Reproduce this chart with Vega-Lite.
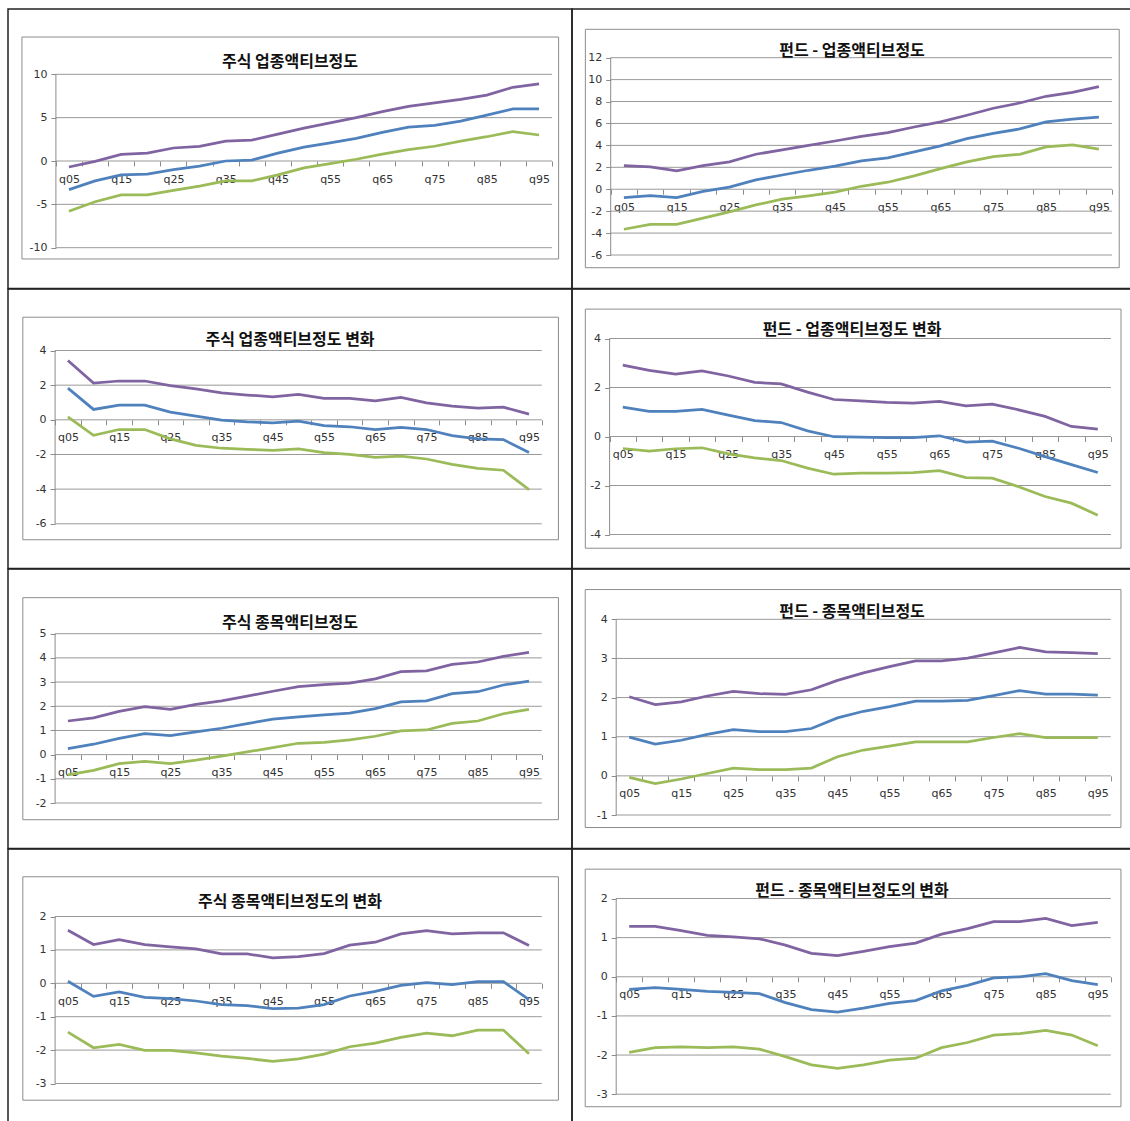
{
  "$schema": "https://vega.github.io/schema/vega-lite/v6.json",
  "background": "white",
  "padding": {"left": 7, "top": 8, "right": 0, "bottom": 0},
  "bounds": "flush",
  "spacing": 0,
  "columns": 2,
  "config": {
    "view": {"stroke": "#222222", "strokeWidth": 1.5},
    "axis": {"domain": false, "grid": false, "tickSize": 5, "tickColor": "#8c8c8c", "labelFont": "DejaVu Sans", "labelFontSize": 11, "labelColor": "#333333", "minExtent": 0},
    "axisX": {"labelPadding": 7},
    "axisY": {"labelPadding": 4},
    "title": {"font": "Noto Sans CJK KR", "fontSize": 16, "fontWeight": "bold", "color": "#111111", "anchor": "middle", "baseline": "middle"},
    "line": {"strokeWidth": 2.75},
    "rule": {"color": "#999999", "strokeWidth": 1}
  },
  "datasets": {
    "p1": [
      {"pct": 5, "upper": -0.69, "coef": -3.3, "lower": -5.8},
      {"pct": 10, "upper": -0.05, "coef": -2.3, "lower": -4.7},
      {"pct": 15, "upper": 0.77, "coef": -1.6, "lower": -3.9},
      {"pct": 20, "upper": 0.9, "coef": -1.5, "lower": -3.9},
      {"pct": 25, "upper": 1.5, "coef": -1.0, "lower": -3.4},
      {"pct": 30, "upper": 1.7, "coef": -0.6, "lower": -2.9},
      {"pct": 35, "upper": 2.3, "coef": 0.0, "lower": -2.3},
      {"pct": 40, "upper": 2.4, "coef": 0.1, "lower": -2.3},
      {"pct": 45, "upper": 3.1, "coef": 0.9, "lower": -1.6},
      {"pct": 50, "upper": 3.8, "coef": 1.6, "lower": -0.8},
      {"pct": 55, "upper": 4.4, "coef": 2.1, "lower": -0.3},
      {"pct": 60, "upper": 5.0, "coef": 2.6, "lower": 0.2},
      {"pct": 65, "upper": 5.7, "coef": 3.3, "lower": 0.8},
      {"pct": 70, "upper": 6.3, "coef": 3.9, "lower": 1.3},
      {"pct": 75, "upper": 6.7, "coef": 4.1, "lower": 1.7},
      {"pct": 80, "upper": 7.1, "coef": 4.6, "lower": 2.3},
      {"pct": 85, "upper": 7.6, "coef": 5.3, "lower": 2.8},
      {"pct": 90, "upper": 8.5, "coef": 6.0, "lower": 3.4},
      {"pct": 95, "upper": 8.9, "coef": 6.0, "lower": 3.0}
    ],
    "p2": [
      {"pct": 5, "upper": 2.16, "coef": -0.76, "lower": -3.65},
      {"pct": 10, "upper": 2.04, "coef": -0.58, "lower": -3.2},
      {"pct": 15, "upper": 1.67, "coef": -0.76, "lower": -3.2},
      {"pct": 20, "upper": 2.16, "coef": -0.2, "lower": -2.64},
      {"pct": 25, "upper": 2.5, "coef": 0.2, "lower": -2.07},
      {"pct": 30, "upper": 3.19, "coef": 0.85, "lower": -1.43},
      {"pct": 35, "upper": 3.59, "coef": 1.3, "lower": -0.91},
      {"pct": 40, "upper": 4.0, "coef": 1.73, "lower": -0.6},
      {"pct": 45, "upper": 4.4, "coef": 2.1, "lower": -0.27},
      {"pct": 50, "upper": 4.83, "coef": 2.58, "lower": 0.27},
      {"pct": 55, "upper": 5.17, "coef": 2.86, "lower": 0.64},
      {"pct": 60, "upper": 5.68, "coef": 3.4, "lower": 1.22},
      {"pct": 65, "upper": 6.14, "coef": 3.95, "lower": 1.88},
      {"pct": 70, "upper": 6.75, "coef": 4.62, "lower": 2.49},
      {"pct": 75, "upper": 7.39, "coef": 5.1, "lower": 2.98},
      {"pct": 80, "upper": 7.87, "coef": 5.5, "lower": 3.19},
      {"pct": 85, "upper": 8.48, "coef": 6.14, "lower": 3.86},
      {"pct": 90, "upper": 8.84, "coef": 6.4, "lower": 4.04},
      {"pct": 95, "upper": 9.36, "coef": 6.57, "lower": 3.65}
    ],
    "p3": [
      {"pct": 5, "upper": 3.42, "coef": 1.83, "lower": 0.17},
      {"pct": 10, "upper": 2.12, "coef": 0.6, "lower": -0.89},
      {"pct": 15, "upper": 2.24, "coef": 0.85, "lower": -0.56},
      {"pct": 20, "upper": 2.24, "coef": 0.85, "lower": -0.56},
      {"pct": 25, "upper": 1.97, "coef": 0.44, "lower": -1.1},
      {"pct": 30, "upper": 1.78, "coef": 0.21, "lower": -1.47},
      {"pct": 35, "upper": 1.56, "coef": -0.02, "lower": -1.64},
      {"pct": 40, "upper": 1.43, "coef": -0.12, "lower": -1.7},
      {"pct": 45, "upper": 1.33, "coef": -0.17, "lower": -1.76},
      {"pct": 50, "upper": 1.47, "coef": -0.08, "lower": -1.68},
      {"pct": 55, "upper": 1.24, "coef": -0.33, "lower": -1.89},
      {"pct": 60, "upper": 1.24, "coef": -0.4, "lower": -1.99},
      {"pct": 65, "upper": 1.1, "coef": -0.56, "lower": -2.16},
      {"pct": 70, "upper": 1.29, "coef": -0.44, "lower": -2.1},
      {"pct": 75, "upper": 0.98, "coef": -0.56, "lower": -2.26},
      {"pct": 80, "upper": 0.79, "coef": -0.91, "lower": -2.57},
      {"pct": 85, "upper": 0.68, "coef": -1.1, "lower": -2.8},
      {"pct": 90, "upper": 0.73, "coef": -1.14, "lower": -2.91},
      {"pct": 95, "upper": 0.33, "coef": -1.89, "lower": -4.03}
    ],
    "p4": [
      {"pct": 5, "upper": 2.91, "coef": 1.2, "lower": -0.49},
      {"pct": 10, "upper": 2.7, "coef": 1.03, "lower": -0.6},
      {"pct": 15, "upper": 2.55, "coef": 1.03, "lower": -0.5},
      {"pct": 20, "upper": 2.68, "coef": 1.11, "lower": -0.46},
      {"pct": 25, "upper": 2.47, "coef": 0.87, "lower": -0.71},
      {"pct": 30, "upper": 2.21, "coef": 0.65, "lower": -0.87},
      {"pct": 35, "upper": 2.15, "coef": 0.57, "lower": -0.98},
      {"pct": 40, "upper": 1.81, "coef": 0.23, "lower": -1.29},
      {"pct": 45, "upper": 1.51, "coef": -0.01, "lower": -1.54},
      {"pct": 50, "upper": 1.45, "coef": -0.03, "lower": -1.49},
      {"pct": 55, "upper": 1.39, "coef": -0.05, "lower": -1.49},
      {"pct": 60, "upper": 1.36, "coef": -0.05, "lower": -1.47},
      {"pct": 65, "upper": 1.43, "coef": 0.03, "lower": -1.39},
      {"pct": 70, "upper": 1.25, "coef": -0.23, "lower": -1.68},
      {"pct": 75, "upper": 1.32, "coef": -0.19, "lower": -1.7},
      {"pct": 80, "upper": 1.09, "coef": -0.48, "lower": -2.05},
      {"pct": 85, "upper": 0.82, "coef": -0.82, "lower": -2.45},
      {"pct": 90, "upper": 0.41, "coef": -1.15, "lower": -2.72},
      {"pct": 95, "upper": 0.3, "coef": -1.47, "lower": -3.21}
    ],
    "p5": [
      {"pct": 5, "upper": 1.39, "coef": 0.25, "lower": -0.84},
      {"pct": 10, "upper": 1.52, "coef": 0.43, "lower": -0.65},
      {"pct": 15, "upper": 1.79, "coef": 0.67, "lower": -0.37},
      {"pct": 20, "upper": 1.98, "coef": 0.87, "lower": -0.28},
      {"pct": 25, "upper": 1.87, "coef": 0.79, "lower": -0.37},
      {"pct": 30, "upper": 2.08, "coef": 0.94, "lower": -0.23},
      {"pct": 35, "upper": 2.22, "coef": 1.09, "lower": -0.06},
      {"pct": 40, "upper": 2.42, "coef": 1.28, "lower": 0.11},
      {"pct": 45, "upper": 2.62, "coef": 1.47, "lower": 0.29},
      {"pct": 50, "upper": 2.81, "coef": 1.56, "lower": 0.47},
      {"pct": 55, "upper": 2.89, "coef": 1.64, "lower": 0.51},
      {"pct": 60, "upper": 2.96, "coef": 1.72, "lower": 0.61},
      {"pct": 65, "upper": 3.13, "coef": 1.9, "lower": 0.76},
      {"pct": 70, "upper": 3.43, "coef": 2.18, "lower": 0.98},
      {"pct": 75, "upper": 3.46, "coef": 2.22, "lower": 1.02},
      {"pct": 80, "upper": 3.73, "coef": 2.52, "lower": 1.29},
      {"pct": 85, "upper": 3.83, "coef": 2.6, "lower": 1.39},
      {"pct": 90, "upper": 4.06, "coef": 2.88, "lower": 1.69},
      {"pct": 95, "upper": 4.23, "coef": 3.04, "lower": 1.87}
    ],
    "p6": [
      {"pct": 5, "upper": 2.02, "coef": 0.99, "lower": -0.04},
      {"pct": 10, "upper": 1.82, "coef": 0.81, "lower": -0.2},
      {"pct": 15, "upper": 1.89, "coef": 0.91, "lower": -0.08},
      {"pct": 20, "upper": 2.04, "coef": 1.06, "lower": 0.06},
      {"pct": 25, "upper": 2.16, "coef": 1.18, "lower": 0.2},
      {"pct": 30, "upper": 2.1, "coef": 1.13, "lower": 0.16},
      {"pct": 35, "upper": 2.08, "coef": 1.13, "lower": 0.16},
      {"pct": 40, "upper": 2.2, "coef": 1.21, "lower": 0.2},
      {"pct": 45, "upper": 2.44, "coef": 1.48, "lower": 0.49},
      {"pct": 50, "upper": 2.63, "coef": 1.65, "lower": 0.66},
      {"pct": 55, "upper": 2.79, "coef": 1.77, "lower": 0.76},
      {"pct": 60, "upper": 2.94, "coef": 1.91, "lower": 0.87},
      {"pct": 65, "upper": 2.94, "coef": 1.91, "lower": 0.87},
      {"pct": 70, "upper": 3.01, "coef": 1.93, "lower": 0.87},
      {"pct": 75, "upper": 3.14, "coef": 2.05, "lower": 0.98},
      {"pct": 80, "upper": 3.28, "coef": 2.18, "lower": 1.08},
      {"pct": 85, "upper": 3.17, "coef": 2.09, "lower": 0.98},
      {"pct": 90, "upper": 3.15, "coef": 2.09, "lower": 0.98},
      {"pct": 95, "upper": 3.12, "coef": 2.06, "lower": 0.98}
    ],
    "p7": [
      {"pct": 5, "upper": 1.59, "coef": 0.06, "lower": -1.46},
      {"pct": 10, "upper": 1.16, "coef": -0.39, "lower": -1.93},
      {"pct": 15, "upper": 1.31, "coef": -0.26, "lower": -1.83},
      {"pct": 20, "upper": 1.16, "coef": -0.42, "lower": -2.01},
      {"pct": 25, "upper": 1.09, "coef": -0.46, "lower": -2.01},
      {"pct": 30, "upper": 1.03, "coef": -0.53, "lower": -2.08},
      {"pct": 35, "upper": 0.88, "coef": -0.64, "lower": -2.18},
      {"pct": 40, "upper": 0.88, "coef": -0.67, "lower": -2.25},
      {"pct": 45, "upper": 0.76, "coef": -0.76, "lower": -2.34},
      {"pct": 50, "upper": 0.8, "coef": -0.74, "lower": -2.26},
      {"pct": 55, "upper": 0.89, "coef": -0.64, "lower": -2.12},
      {"pct": 60, "upper": 1.14, "coef": -0.38, "lower": -1.9},
      {"pct": 65, "upper": 1.23, "coef": -0.24, "lower": -1.79},
      {"pct": 70, "upper": 1.48, "coef": -0.06, "lower": -1.62},
      {"pct": 75, "upper": 1.58, "coef": 0.02, "lower": -1.49},
      {"pct": 80, "upper": 1.48, "coef": -0.04, "lower": -1.57},
      {"pct": 85, "upper": 1.51, "coef": 0.05, "lower": -1.4},
      {"pct": 90, "upper": 1.51, "coef": 0.05, "lower": -1.4},
      {"pct": 95, "upper": 1.13, "coef": -0.49, "lower": -2.11}
    ],
    "p8": [
      {"pct": 5, "upper": 1.29, "coef": -0.32, "lower": -1.93},
      {"pct": 10, "upper": 1.29, "coef": -0.28, "lower": -1.81},
      {"pct": 15, "upper": 1.18, "coef": -0.32, "lower": -1.79},
      {"pct": 20, "upper": 1.06, "coef": -0.37, "lower": -1.81},
      {"pct": 25, "upper": 1.02, "coef": -0.4, "lower": -1.79},
      {"pct": 30, "upper": 0.97, "coef": -0.43, "lower": -1.85},
      {"pct": 35, "upper": 0.81, "coef": -0.66, "lower": -2.04},
      {"pct": 40, "upper": 0.6, "coef": -0.84, "lower": -2.25},
      {"pct": 45, "upper": 0.54, "coef": -0.9, "lower": -2.34},
      {"pct": 50, "upper": 0.65, "coef": -0.8, "lower": -2.25},
      {"pct": 55, "upper": 0.77, "coef": -0.68, "lower": -2.13},
      {"pct": 60, "upper": 0.86, "coef": -0.61, "lower": -2.08},
      {"pct": 65, "upper": 1.09, "coef": -0.36, "lower": -1.81},
      {"pct": 70, "upper": 1.23, "coef": -0.22, "lower": -1.68},
      {"pct": 75, "upper": 1.41, "coef": -0.03, "lower": -1.49},
      {"pct": 80, "upper": 1.41, "coef": 0.0, "lower": -1.45},
      {"pct": 85, "upper": 1.49, "coef": 0.08, "lower": -1.37},
      {"pct": 90, "upper": 1.31, "coef": -0.1, "lower": -1.49},
      {"pct": 95, "upper": 1.39, "coef": -0.2, "lower": -1.76}
    ]
  },
  "concat": [
      {"width": 564, "height": 279.5,
       "title": {"text": "주식 업종액티브정도", "offset": -61.2},
       "layer": [
         {"data": {"values": [{}]}, "mark": {"type": "rect", "fill": "transparent", "stroke": "#8c8c8c", "strokeWidth": 1},
          "encoding": {"x": {"datum": -4.0, "type": "quantitative"}, "x2": {"datum": 98.75}, "y": {"datum": 14.3, "type": "quantitative"}, "y2": {"datum": -11.3}}},
         {"data": {"values": [{"g": 10}, {"g": 5}, {"g": 0}, {"g": -5}, {"g": -10}]}, "mark": {"type": "rule"},
          "encoding": {"x": {"datum": 2.5, "type": "quantitative"}, "x2": {"datum": 97.5}, "y": {"field": "g", "type": "quantitative"}}},
         {"data": {"values": [{}]}, "mark": {"type": "rule", "color": "#8c8c8c"},
          "encoding": {"x": {"datum": 2.5, "type": "quantitative"}, "y": {"datum": -10, "type": "quantitative"}, "y2": {"datum": 10}}},
         {"data": {"name": "p1"}, "transform": [{"fold": ["upper", "coef", "lower"], "as": ["series", "value"]}], "mark": {"type": "line"},
          "encoding": {
            "x": {"field": "pct", "type": "quantitative", "scale": {"domain": [2.5, 97.5], "range": [47.9, 544.1], "nice": false, "zero": false},
                  "axis": {"title": null, "offset": -127.5, "tickCount": 100, "labelOverlap": false, "labelFlush": false, "values": [2.5,5,7.5,10,12.5,15,17.5,20,22.5,25,27.5,30,32.5,35,37.5,40,42.5,45,47.5,50,52.5,55,57.5,60,62.5,65,67.5,70,72.5,75,77.5,80,82.5,85,87.5,90,92.5,95,97.5],
                           "tickOpacity": {"condition": {"test": "datum.value % 5 != 0", "value": 1}, "value": 0},
                           "labelExpr": "datum.value % 10 == 5 ? 'q' + (datum.value < 10 ? '0' : '') + datum.value : ''"}},
            "y": {"field": "value", "type": "quantitative", "scale": {"domain": [-10, 10], "range": [238.7, 65.3], "nice": false, "zero": false},
                  "axis": {"title": null, "offset": -47.9, "tickCount": 100, "labelOverlap": false, "labelExpr": "'' + datum.value", "values": [10, 5, 0, -5, -10]}},
            "color": {"field": "series", "type": "nominal", "scale": {"domain": ["upper", "coef", "lower"], "range": ["#8064A2", "#4F81BD", "#9BBB59"]}, "legend": null}}}
       ]},
      {"width": 560, "height": 279.5,
       "title": {"text": "펀드 - 업종액티브정도", "offset": -50.2},
       "layer": [
         {"data": {"values": [{}]}, "mark": {"type": "rect", "fill": "transparent", "stroke": "#8c8c8c", "strokeWidth": 1},
          "encoding": {"x": {"datum": -2.3, "type": "quantitative"}, "x2": {"datum": 98.85}, "y": {"datum": 14.59, "type": "quantitative"}, "y2": {"datum": -7.16}}},
         {"data": {"values": [{"g": 12}, {"g": 10}, {"g": 8}, {"g": 6}, {"g": 4}, {"g": 2}, {"g": 0}, {"g": -2}, {"g": -4}, {"g": -6}]}, "mark": {"type": "rule"},
          "encoding": {"x": {"datum": 2.5, "type": "quantitative"}, "x2": {"datum": 97.5}, "y": {"field": "g", "type": "quantitative"}}},
         {"data": {"values": [{}]}, "mark": {"type": "rule", "color": "#8c8c8c"},
          "encoding": {"x": {"datum": 2.5, "type": "quantitative"}, "y": {"datum": -6, "type": "quantitative"}, "y2": {"datum": 12}}},
         {"data": {"name": "p2"}, "transform": [{"fold": ["upper", "coef", "lower"], "as": ["series", "value"]}], "mark": {"type": "line"},
          "encoding": {
            "x": {"field": "pct", "type": "quantitative", "scale": {"domain": [2.5, 97.5], "range": [38.7, 540.1], "nice": false, "zero": false},
                  "axis": {"title": null, "offset": -99.3, "tickCount": 100, "labelOverlap": false, "labelFlush": false, "values": [2.5,5,7.5,10,12.5,15,17.5,20,22.5,25,27.5,30,32.5,35,37.5,40,42.5,45,47.5,50,52.5,55,57.5,60,62.5,65,67.5,70,72.5,75,77.5,80,82.5,85,87.5,90,92.5,95,97.5],
                           "tickOpacity": {"condition": {"test": "datum.value % 5 != 0", "value": 1}, "value": 0},
                           "labelExpr": "datum.value % 10 == 5 ? 'q' + (datum.value < 10 ? '0' : '') + datum.value : ''"}},
            "y": {"field": "value", "type": "quantitative", "scale": {"domain": [-6, 12], "range": [246, 48.7], "nice": false, "zero": false},
                  "axis": {"title": null, "offset": -38.7, "tickCount": 100, "labelOverlap": false, "labelExpr": "'' + datum.value", "values": [12, 10, 8, 6, 4, 2, 0, -2, -4, -6]}},
            "color": {"field": "series", "type": "nominal", "scale": {"domain": ["upper", "coef", "lower"], "range": ["#8064A2", "#4F81BD", "#9BBB59"]}, "legend": null}}}
       ]},
      {"width": 564, "height": 279.5,
       "title": {"text": "주식 업종액티브정도 변화", "offset": -59.3},
       "layer": [
         {"data": {"values": [{}]}, "mark": {"type": "rect", "fill": "transparent", "stroke": "#8c8c8c", "strokeWidth": 1},
          "encoding": {"x": {"datum": -3.8, "type": "quantitative"}, "x2": {"datum": 100.75}, "y": {"datum": 5.92, "type": "quantitative"}, "y2": {"datum": -6.92}}},
         {"data": {"values": [{"g": 4}, {"g": 2}, {"g": 0}, {"g": -2}, {"g": -4}, {"g": -6}]}, "mark": {"type": "rule"},
          "encoding": {"x": {"datum": 2.5, "type": "quantitative"}, "x2": {"datum": 97.5}, "y": {"field": "g", "type": "quantitative"}}},
         {"data": {"values": [{}]}, "mark": {"type": "rule", "color": "#8c8c8c"},
          "encoding": {"x": {"datum": 2.5, "type": "quantitative"}, "y": {"datum": -6, "type": "quantitative"}, "y2": {"datum": 4}}},
         {"data": {"name": "p3"}, "transform": [{"fold": ["upper", "coef", "lower"], "as": ["series", "value"]}], "mark": {"type": "line"},
          "encoding": {
            "x": {"field": "pct", "type": "quantitative", "scale": {"domain": [2.5, 97.5], "range": [47.1, 533.8], "nice": false, "zero": false},
                  "axis": {"title": null, "offset": -148.7, "tickCount": 100, "labelOverlap": false, "labelFlush": false, "values": [2.5,5,7.5,10,12.5,15,17.5,20,22.5,25,27.5,30,32.5,35,37.5,40,42.5,45,47.5,50,52.5,55,57.5,60,62.5,65,67.5,70,72.5,75,77.5,80,82.5,85,87.5,90,92.5,95,97.5],
                           "tickOpacity": {"condition": {"test": "datum.value % 5 != 0", "value": 1}, "value": 0},
                           "labelExpr": "datum.value % 10 == 5 ? 'q' + (datum.value < 10 ? '0' : '') + datum.value : ''"}},
            "y": {"field": "value", "type": "quantitative", "scale": {"domain": [-6, 4], "range": [234.8, 61.5], "nice": false, "zero": false},
                  "axis": {"title": null, "offset": -47.1, "tickCount": 100, "labelOverlap": false, "labelExpr": "'' + datum.value", "values": [4, 2, 0, -2, -4, -6]}},
            "color": {"field": "series", "type": "nominal", "scale": {"domain": ["upper", "coef", "lower"], "range": ["#8064A2", "#4F81BD", "#9BBB59"]}, "legend": null}}}
       ]},
      {"width": 560, "height": 279.5,
       "title": {"text": "펀드 - 업종액티브정도 변화", "offset": -49.3},
       "layer": [
         {"data": {"values": [{}]}, "mark": {"type": "rect", "fill": "transparent", "stroke": "#8c8c8c", "strokeWidth": 1},
          "encoding": {"x": {"datum": -2.1, "type": "quantitative"}, "x2": {"datum": 99.4}, "y": {"datum": 5.2, "type": "quantitative"}, "y2": {"datum": -4.56}}},
         {"data": {"values": [{"g": 4}, {"g": 2}, {"g": 0}, {"g": -2}, {"g": -4}]}, "mark": {"type": "rule"},
          "encoding": {"x": {"datum": 2.5, "type": "quantitative"}, "x2": {"datum": 97.5}, "y": {"field": "g", "type": "quantitative"}}},
         {"data": {"values": [{}]}, "mark": {"type": "rule", "color": "#8c8c8c"},
          "encoding": {"x": {"datum": 2.5, "type": "quantitative"}, "y": {"datum": -4, "type": "quantitative"}, "y2": {"datum": 4}}},
         {"data": {"name": "p4"}, "transform": [{"fold": ["upper", "coef", "lower"], "as": ["series", "value"]}], "mark": {"type": "line"},
          "encoding": {
            "x": {"field": "pct", "type": "quantitative", "scale": {"domain": [2.5, 97.5], "range": [37.6, 539], "nice": false, "zero": false},
                  "axis": {"title": null, "offset": -132, "tickCount": 100, "labelOverlap": false, "labelFlush": false, "values": [2.5,5,7.5,10,12.5,15,17.5,20,22.5,25,27.5,30,32.5,35,37.5,40,42.5,45,47.5,50,52.5,55,57.5,60,62.5,65,67.5,70,72.5,75,77.5,80,82.5,85,87.5,90,92.5,95,97.5],
                           "tickOpacity": {"condition": {"test": "datum.value % 5 != 0", "value": 1}, "value": 0},
                           "labelExpr": "datum.value % 10 == 5 ? 'q' + (datum.value < 10 ? '0' : '') + datum.value : ''"}},
            "y": {"field": "value", "type": "quantitative", "scale": {"domain": [-4, 4], "range": [245.5, 49.5], "nice": false, "zero": false},
                  "axis": {"title": null, "offset": -37.6, "tickCount": 100, "labelOverlap": false, "labelExpr": "'' + datum.value", "values": [4, 2, 0, -2, -4]}},
            "color": {"field": "series", "type": "nominal", "scale": {"domain": ["upper", "coef", "lower"], "range": ["#8064A2", "#4F81BD", "#9BBB59"]}, "legend": null}}}
       ]},
      {"width": 564, "height": 279.5,
       "title": {"text": "주식 종목액티브정도", "offset": -61.5},
       "layer": [
         {"data": {"values": [{}]}, "mark": {"type": "rect", "fill": "transparent", "stroke": "#8c8c8c", "strokeWidth": 1},
          "encoding": {"x": {"datum": -3.8, "type": "quantitative"}, "x2": {"datum": 100.75}, "y": {"datum": 6.49, "type": "quantitative"}, "y2": {"datum": -2.69}}},
         {"data": {"values": [{"g": 5}, {"g": 4}, {"g": 3}, {"g": 2}, {"g": 1}, {"g": 0}, {"g": -1}, {"g": -2}]}, "mark": {"type": "rule"},
          "encoding": {"x": {"datum": 2.5, "type": "quantitative"}, "x2": {"datum": 97.5}, "y": {"field": "g", "type": "quantitative"}}},
         {"data": {"values": [{}]}, "mark": {"type": "rule", "color": "#8c8c8c"},
          "encoding": {"x": {"datum": 2.5, "type": "quantitative"}, "y": {"datum": -2, "type": "quantitative"}, "y2": {"datum": 5}}},
         {"data": {"name": "p5"}, "transform": [{"fold": ["upper", "coef", "lower"], "as": ["series", "value"]}], "mark": {"type": "line"},
          "encoding": {
            "x": {"field": "pct", "type": "quantitative", "scale": {"domain": [2.5, 97.5], "range": [47.1, 533.8], "nice": false, "zero": false},
                  "axis": {"title": null, "offset": -93.9, "tickCount": 100, "labelOverlap": false, "labelFlush": false, "values": [2.5,5,7.5,10,12.5,15,17.5,20,22.5,25,27.5,30,32.5,35,37.5,40,42.5,45,47.5,50,52.5,55,57.5,60,62.5,65,67.5,70,72.5,75,77.5,80,82.5,85,87.5,90,92.5,95,97.5],
                           "tickOpacity": {"condition": {"test": "datum.value % 5 != 0", "value": 1}, "value": 0},
                           "labelExpr": "datum.value % 10 == 5 ? 'q' + (datum.value < 10 ? '0' : '') + datum.value : ''"}},
            "y": {"field": "value", "type": "quantitative", "scale": {"domain": [-2, 5], "range": [234, 64.7], "nice": false, "zero": false},
                  "axis": {"title": null, "offset": -47.1, "tickCount": 100, "labelOverlap": false, "labelExpr": "'' + datum.value", "values": [5, 4, 3, 2, 1, 0, -1, -2]}},
            "color": {"field": "series", "type": "nominal", "scale": {"domain": ["upper", "coef", "lower"], "range": ["#8064A2", "#4F81BD", "#9BBB59"]}, "legend": null}}}
       ]},
      {"width": 560, "height": 279.5,
       "title": {"text": "펀드 - 종목액티브정도", "offset": -50.5},
       "layer": [
         {"data": {"values": [{}]}, "mark": {"type": "rect", "fill": "transparent", "stroke": "#8c8c8c", "strokeWidth": 1},
          "encoding": {"x": {"datum": -3.45, "type": "quantitative"}, "x2": {"datum": 99.45}, "y": {"datum": 4.76, "type": "quantitative"}, "y2": {"datum": -1.32}}},
         {"data": {"values": [{"g": 4}, {"g": 3}, {"g": 2}, {"g": 1}, {"g": 0}, {"g": -1}]}, "mark": {"type": "rule"},
          "encoding": {"x": {"datum": 2.5, "type": "quantitative"}, "x2": {"datum": 97.5}, "y": {"field": "g", "type": "quantitative"}}},
         {"data": {"values": [{}]}, "mark": {"type": "rule", "color": "#8c8c8c"},
          "encoding": {"x": {"datum": 2.5, "type": "quantitative"}, "y": {"datum": -1, "type": "quantitative"}, "y2": {"datum": 4}}},
         {"data": {"name": "p6"}, "transform": [{"fold": ["upper", "coef", "lower"], "as": ["series", "value"]}], "mark": {"type": "line"},
          "encoding": {
            "x": {"field": "pct", "type": "quantitative", "scale": {"domain": [2.5, 97.5], "range": [44.2, 538.8], "nice": false, "zero": false},
                  "axis": {"title": null, "offset": -72.6, "tickCount": 100, "labelOverlap": false, "labelFlush": false, "values": [2.5,5,7.5,10,12.5,15,17.5,20,22.5,25,27.5,30,32.5,35,37.5,40,42.5,45,47.5,50,52.5,55,57.5,60,62.5,65,67.5,70,72.5,75,77.5,80,82.5,85,87.5,90,92.5,95,97.5],
                           "tickOpacity": {"condition": {"test": "datum.value % 5 != 0", "value": 1}, "value": 0},
                           "labelExpr": "datum.value % 10 == 5 ? 'q' + (datum.value < 10 ? '0' : '') + datum.value : ''"}},
            "y": {"field": "value", "type": "quantitative", "scale": {"domain": [-1, 4], "range": [246, 50.3], "nice": false, "zero": false},
                  "axis": {"title": null, "offset": -44.2, "tickCount": 100, "labelOverlap": false, "labelExpr": "'' + datum.value", "values": [4, 3, 2, 1, 0, -1]}},
            "color": {"field": "series", "type": "nominal", "scale": {"domain": ["upper", "coef", "lower"], "range": ["#8064A2", "#4F81BD", "#9BBB59"]}, "legend": null}}}
       ]},
      {"width": 564, "height": 279.5,
       "title": {"text": "주식 종목액티브정도의 변화", "offset": -61},
       "layer": [
         {"data": {"values": [{}]}, "mark": {"type": "rect", "fill": "transparent", "stroke": "#8c8c8c", "strokeWidth": 1},
          "encoding": {"x": {"datum": -3.8, "type": "quantitative"}, "x2": {"datum": 100.75}, "y": {"datum": 3.19, "type": "quantitative"}, "y2": {"datum": -3.5}}},
         {"data": {"values": [{"g": 2}, {"g": 1}, {"g": 0}, {"g": -1}, {"g": -2}, {"g": -3}]}, "mark": {"type": "rule"},
          "encoding": {"x": {"datum": 2.5, "type": "quantitative"}, "x2": {"datum": 97.5}, "y": {"field": "g", "type": "quantitative"}}},
         {"data": {"values": [{}]}, "mark": {"type": "rule", "color": "#8c8c8c"},
          "encoding": {"x": {"datum": 2.5, "type": "quantitative"}, "y": {"datum": -3, "type": "quantitative"}, "y2": {"datum": 2}}},
         {"data": {"name": "p7"}, "transform": [{"fold": ["upper", "coef", "lower"], "as": ["series", "value"]}], "mark": {"type": "line"},
          "encoding": {
            "x": {"field": "pct", "type": "quantitative", "scale": {"domain": [2.5, 97.5], "range": [47.1, 533.8], "nice": false, "zero": false},
                  "axis": {"title": null, "offset": -145.2, "tickCount": 100, "labelOverlap": false, "labelFlush": false, "values": [2.5,5,7.5,10,12.5,15,17.5,20,22.5,25,27.5,30,32.5,35,37.5,40,42.5,45,47.5,50,52.5,55,57.5,60,62.5,65,67.5,70,72.5,75,77.5,80,82.5,85,87.5,90,92.5,95,97.5],
                           "tickOpacity": {"condition": {"test": "datum.value % 5 != 0", "value": 1}, "value": 0},
                           "labelExpr": "datum.value % 10 == 5 ? 'q' + (datum.value < 10 ? '0' : '') + datum.value : ''"}},
            "y": {"field": "value", "type": "quantitative", "scale": {"domain": [-3, 2], "range": [234.5, 67.5], "nice": false, "zero": false},
                  "axis": {"title": null, "offset": -47.1, "tickCount": 100, "labelOverlap": false, "labelExpr": "'' + datum.value", "values": [2, 1, 0, -1, -2, -3]}},
            "color": {"field": "series", "type": "nominal", "scale": {"domain": ["upper", "coef", "lower"], "range": ["#8064A2", "#4F81BD", "#9BBB59"]}, "legend": null}}}
       ]},
      {"width": 560, "height": 279.5,
       "title": {"text": "펀드 - 종목액티브정도의 변화", "offset": -50},
       "layer": [
         {"data": {"values": [{}]}, "mark": {"type": "rect", "fill": "transparent", "stroke": "#8c8c8c", "strokeWidth": 1},
          "encoding": {"x": {"datum": -3.45, "type": "quantitative"}, "x2": {"datum": 99.45}, "y": {"datum": 2.75, "type": "quantitative"}, "y2": {"datum": -3.32}}},
         {"data": {"values": [{"g": 2}, {"g": 1}, {"g": 0}, {"g": -1}, {"g": -2}, {"g": -3}]}, "mark": {"type": "rule"},
          "encoding": {"x": {"datum": 2.5, "type": "quantitative"}, "x2": {"datum": 97.5}, "y": {"field": "g", "type": "quantitative"}}},
         {"data": {"values": [{}]}, "mark": {"type": "rule", "color": "#8c8c8c"},
          "encoding": {"x": {"datum": 2.5, "type": "quantitative"}, "y": {"datum": -3, "type": "quantitative"}, "y2": {"datum": 2}}},
         {"data": {"name": "p8"}, "transform": [{"fold": ["upper", "coef", "lower"], "as": ["series", "value"]}], "mark": {"type": "line"},
          "encoding": {
            "x": {"field": "pct", "type": "quantitative", "scale": {"domain": [2.5, 97.5], "range": [44.2, 538.8], "nice": false, "zero": false},
                  "axis": {"title": null, "offset": -151.7, "tickCount": 100, "labelOverlap": false, "labelFlush": false, "values": [2.5,5,7.5,10,12.5,15,17.5,20,22.5,25,27.5,30,32.5,35,37.5,40,42.5,45,47.5,50,52.5,55,57.5,60,62.5,65,67.5,70,72.5,75,77.5,80,82.5,85,87.5,90,92.5,95,97.5],
                           "tickOpacity": {"condition": {"test": "datum.value % 5 != 0", "value": 1}, "value": 0},
                           "labelExpr": "datum.value % 10 == 5 ? 'q' + (datum.value < 10 ? '0' : '') + datum.value : ''"}},
            "y": {"field": "value", "type": "quantitative", "scale": {"domain": [-3, 2], "range": [245.2, 49.5], "nice": false, "zero": false},
                  "axis": {"title": null, "offset": -44.2, "tickCount": 100, "labelOverlap": false, "labelExpr": "'' + datum.value", "values": [2, 1, 0, -1, -2, -3]}},
            "color": {"field": "series", "type": "nominal", "scale": {"domain": ["upper", "coef", "lower"], "range": ["#8064A2", "#4F81BD", "#9BBB59"]}, "legend": null}}}
       ]}
  ]
}
